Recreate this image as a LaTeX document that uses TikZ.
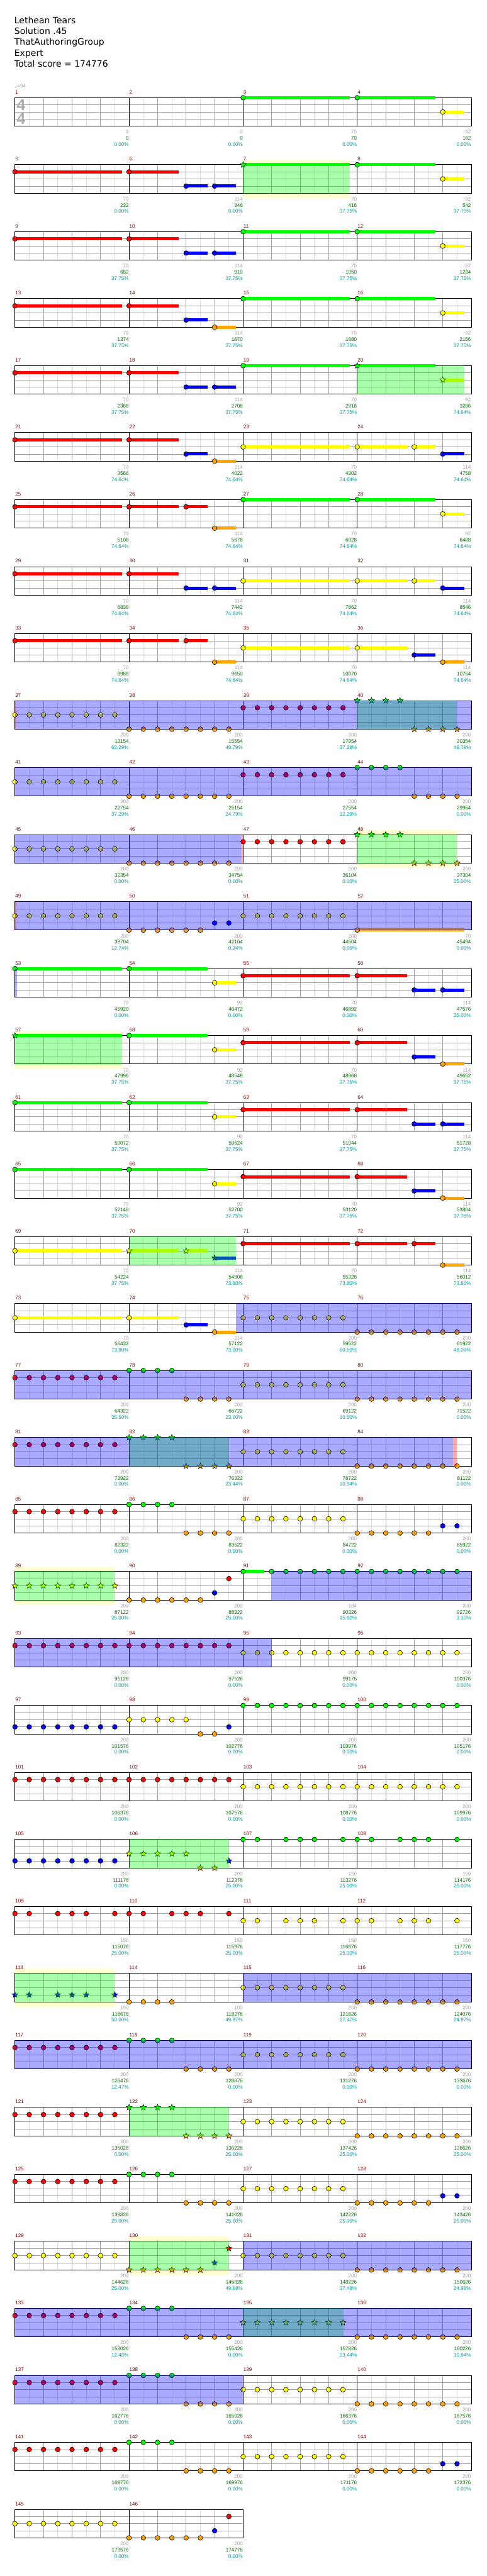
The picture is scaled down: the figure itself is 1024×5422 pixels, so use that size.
\documentclass[tikz,border=0pt]{standalone}
\usepackage{fontspec}
\setmainfont{Liberation Sans}
\newfontfamily\numfont{Liberation Sans}
\newfontfamily\headfont{DejaVu Sans}
\usetikzlibrary{shapes.geometric}
\definecolor{ln0}{RGB}{0,255,0}
\definecolor{ln1}{RGB}{255,0,0}
\definecolor{ln2}{RGB}{255,255,0}
\definecolor{ln3}{RGB}{0,0,255}
\definecolor{ln4}{RGB}{255,165,0}
\definecolor{barnum}{RGB}{128,0,0}
\definecolor{ptsgray}{RGB}{160,160,160}
\definecolor{ptsgreen}{RGB}{0,100,0}
\definecolor{ptscyan}{RGB}{0,150,150}
\definecolor{gridmid}{RGB}{160,160,160}
\definecolor{gridlt}{RGB}{222,222,222}
\definecolor{spband}{RGB}{255,255,208}
\pgfdeclarelayer{back}\pgfdeclarelayer{over}\pgfsetlayers{back,main,over}
% measure #1 -> \barX, \barY (left end, top line of its staff)
\newcommand\mpos[1]{\pgfmathtruncatemacro\barR{(#1-1)/4}\pgfmathtruncatemacro\barC{#1-1-4*\barR}\pgfmathsetmacro\barX{31.5+240*\barC}\pgfmathsetmacro\barY{205.7+141*\barR}}
\newcommand\gem[3]{\mpos{#1}\node[gem,fill=ln#2] (g-#1-#2-#3) at (\barX+15*#3,\barY+15*#2) {};}
\newcommand\sgem[3]{\mpos{#1}\node[sgem,fill=ln#2] (s-#1-#2-#3) at (\barX+15*#3,\barY+15*#2) {};}
\newcommand\tailbar[4]{\mpos{#1}\fill[ln#2] (\barX+15*#3,\barY+15*#2-3.3) rectangle (\barX+15*#4,\barY+15*#2+3.3);}
\newcommand\hold[4]{\tailbar{#1}{#2}{#3}{#4}\gem{#1}{#2}{#3}}
\newcommand\shold[4]{\tailbar{#1}{#2}{#3}{#4}\sgem{#1}{#2}{#3}}
\newcommand\erun[3]{\foreach \p in {#3} {\gem{#1}{#2}{\p}}}
\newcommand\srun[3]{\foreach \p in {#3} {\sgem{#1}{#2}{\p}}}
% overlay from measure #1 pos #2 to measure #3 pos #4 (same row)
\newcommand\zone[5]{\mpos{#3}\pgfmathsetmacro\zoneB{\barX+15*#4}\mpos{#1}\pgfmathsetmacro\zoneA{\barX+15*#2}%
\begin{pgfonlayer}{over}\fill[#5,fill opacity=0.333] (\zoneA,\barY-0.7) rectangle (\zoneB,\barY+60.7);\end{pgfonlayer}}
\newcommand\band[3]{\mpos{#1}\begin{pgfonlayer}{back}\fill[spband] (\barX+15*#2,\barY-10) rectangle (\barX+15*#3,\barY) (\barX+15*#2,\barY+60) rectangle (\barX+15*#3,\barY+70);\end{pgfonlayer}}
\newcommand\staffrow[2]{\pgfmathsetmacro\stY{205.7+141*#1}\pgfmathsetmacro\stW{240*#2}\pgfmathtruncatemacro\nE{8*#2-1}\pgfmathtruncatemacro\nQ{4*#2-1}\pgfmathtruncatemacro\nM{#2-1}%
\draw[gridlt,line width=0.7pt] foreach \k in {1,3,...,\nE} {(31.5+30*\k,\stY)--++(0,60)};
\draw[gridmid,line width=0.7pt] foreach \k in {1,...,\nQ} {(31.5+60*\k,\stY)--++(0,60)} foreach \l in {15,30,45} {(31.5,\stY+\l)--++(\stW,0)};
\draw[black,line width=0.75pt] foreach \k in {1,...,\nM} {(31.5+240*\k,\stY)--++(0,60)};
\draw[black,line width=1pt] (31.5,\stY) rectangle ++(\stW,60);}

\begin{document}
\begin{tikzpicture}[x=0.75pt,y=-0.75pt,
  gem/.style={circle,draw=black,line width=0.6pt,inner sep=0pt,minimum size=7.6pt},
  sgem/.style={star,star points=5,star point ratio=2.3,draw=black,line width=0.5pt,inner sep=0pt,minimum size=10pt},
  head/.style={anchor=base west,inner sep=0pt,font=\headfont\fontsize{13.9}{16}\selectfont},
  barlbl/.style={anchor=base west,inner sep=0pt,text=barnum,font=\numfont\fontsize{8}{9}\selectfont},
  pts/.style={anchor=base east,inner sep=0pt,font=\numfont\fontsize{8}{9}\selectfont},
  tsig/.style={anchor=base west,inner sep=0pt,text=ptsgray!85,font=\numfont\bfseries\fontsize{25}{25}\selectfont}]
\useasboundingbox (0,0) rectangle (1024,5422);
% header
\node[head] (title) at (30,49.3) {Lethean Tears};
\node[head] (sol) at (30,72.3) {Solution .45};
\node[head] (auth) at (30,95.3) {ThatAuthoringGroup};
\node[head] (diff) at (30,118.3) {Expert};
\node[head] (total) at (30,141.3) {Total score = 174776};
\node[anchor=base west,inner sep=0pt,text=ptsgray,font=\numfont\fontsize{8}{9}\selectfont] (tempo) at (31,185) {{\headfont ♩}=94};
% staves
\foreach \r in {0,...,35} {\staffrow{\r}{4}}
\staffrow{36}{2}
\node[tsig] (ts1) at (34.5,232) {4};
\node[tsig] (ts2) at (34.5,262) {4};
% rows 0-8
\hold{3}{0}{0}{15}\hold{4}{0}{0}{11}\hold{4}{2}{12}{15}
\hold{5}{1}{0}{15}\hold{6}{1}{0}{7}\hold{6}{3}{8}{11}\hold{6}{3}{12}{15}\shold{7}{0}{0}{15}\hold{8}{0}{0}{11}\hold{8}{2}{12}{15}
\band{7}{0}{15}\zone{7}{0}{7}{15}{ln0}
\hold{9}{1}{0}{15}\hold{10}{1}{0}{7}\hold{10}{3}{8}{11}\hold{10}{3}{12}{15}\hold{11}{0}{0}{15}\hold{12}{0}{0}{11}\hold{12}{2}{12}{15}
\hold{13}{1}{0}{15}\hold{14}{1}{0}{7}\hold{14}{3}{8}{11}\hold{14}{4}{12}{15}\hold{15}{0}{0}{15}\hold{16}{0}{0}{11}\hold{16}{2}{12}{15}
\hold{17}{1}{0}{15}\hold{18}{1}{0}{7}\hold{18}{3}{8}{11}\hold{18}{3}{12}{15}\hold{19}{0}{0}{15}\shold{20}{0}{0}{11}\shold{20}{2}{12}{15}
\zone{20}{0}{20}{15}{ln0}
\hold{21}{1}{0}{15}\hold{22}{1}{0}{7}\hold{22}{3}{8}{11}\hold{22}{4}{12}{15}\hold{23}{2}{0}{15}\hold{24}{2}{0}{7}\hold{24}{2}{8}{11}\hold{24}{3}{12}{15}
\hold{25}{1}{0}{15}\hold{26}{1}{0}{7}\hold{26}{1}{8}{11}\hold{26}{4}{12}{15}\hold{27}{0}{0}{15}\hold{28}{0}{0}{11}\hold{28}{2}{12}{15}
\hold{29}{1}{0}{15}\hold{30}{1}{0}{7}\hold{30}{3}{8}{11}\hold{30}{3}{12}{15}\hold{31}{2}{0}{15}\hold{32}{2}{0}{7}\hold{32}{2}{8}{11}\hold{32}{3}{12}{15}
\hold{33}{1}{0}{15}\hold{34}{1}{0}{7}\hold{34}{1}{8}{11}\hold{34}{4}{12}{15}\hold{35}{2}{0}{15}\hold{36}{2}{0}{7}\hold{36}{3}{8}{11}\hold{36}{4}{12}{15}
% rows 9-12
\erun{37}{2}{0,2,...,14}\erun{38}{4}{0,2,...,14}\erun{39}{1}{0,2,...,14}\srun{40}{0}{0,2,4,6}\srun{40}{4}{8,10,12,14}
\zone{40}{0}{40}{14}{ln0}\zone{37}{0}{40}{16}{ln3}\zone{37}{0}{37}{0.1}{ln1}
\erun{41}{2}{0,2,...,14}\erun{42}{4}{0,2,...,14}\erun{43}{1}{0,2,...,14}\erun{44}{0}{0,2,4,6}\erun{44}{4}{8,10,12,14}
\zone{41}{0}{44}{16}{ln3}
\erun{45}{2}{0,2,...,14}\erun{46}{4}{0,2,...,14}\erun{47}{1}{0,2,...,14}\srun{48}{0}{0,2,4,6}\srun{48}{4}{8,10,12,14}
\band{48}{0}{14}\zone{48}{0}{48}{14}{ln0}\zone{45}{0}{46}{15.7}{ln3}\zone{46}{15.7}{46}{16}{ln1}
\erun{49}{2}{0,2,...,14}\erun{50}{4}{0,2,...,10}\erun{50}{3}{12,14}\erun{51}{2}{0,2,...,14}\hold{52}{4}{0}{15}
\zone{49}{0}{52}{16}{ln3}\zone{49}{0}{49}{0.2}{ln1}
% rows 13-18
\hold{53}{0}{0}{15}\hold{54}{0}{0}{11}\hold{54}{2}{12}{15}\hold{55}{1}{0}{15}\hold{56}{1}{0}{7}\hold{56}{3}{8}{11}\hold{56}{3}{12}{15}
\zone{53}{0}{53}{0.3}{ln3}
\shold{57}{0}{0}{15}\hold{58}{0}{0}{11}\hold{58}{2}{12}{15}\hold{59}{1}{0}{15}\hold{60}{1}{0}{7}\hold{60}{3}{8}{11}\hold{60}{4}{12}{15}
\band{57}{0}{15}\zone{57}{0}{57}{15}{ln0}
\hold{61}{0}{0}{15}\hold{62}{0}{0}{11}\hold{62}{2}{12}{15}\hold{63}{1}{0}{15}\hold{64}{1}{0}{7}\hold{64}{3}{8}{11}\hold{64}{3}{12}{15}
\hold{65}{0}{0}{15}\hold{66}{0}{0}{11}\hold{66}{2}{12}{15}\hold{67}{1}{0}{15}\hold{68}{1}{0}{7}\hold{68}{3}{8}{11}\hold{68}{4}{12}{15}
\hold{69}{2}{0}{15}\shold{70}{2}{0}{7}\shold{70}{2}{8}{11}\shold{70}{3}{12}{15}\hold{71}{1}{0}{15}\hold{72}{1}{0}{7}\hold{72}{1}{8}{11}\hold{72}{4}{12}{15}
\zone{70}{0}{70}{15}{ln0}
\hold{73}{2}{0}{15}\hold{74}{2}{0}{7}\hold{74}{3}{8}{11}\hold{74}{4}{12}{15}\erun{75}{2}{0,2,...,14}\erun{76}{4}{0,2,...,14}
\zone{74}{15}{76}{16}{ln3}
% rows 19-24
\erun{77}{1}{0,2,...,14}\erun{78}{0}{0,2,4,6}\erun{78}{4}{8,10,12,14}\erun{79}{2}{0,2,...,14}\erun{80}{4}{0,2,...,14}
\zone{77}{0}{80}{16}{ln3}
\erun{81}{1}{0,2,...,14}\srun{82}{0}{0,2,4,6}\srun{82}{4}{8,10,12,14}\erun{83}{2}{0,2,...,14}\erun{84}{4}{0,2,...,14}
\zone{82}{0}{82}{14}{ln0}\zone{81}{0}{84}{13.4}{ln3}\zone{84}{13.4}{84}{14}{ln1}
\erun{85}{1}{0,2,...,14}\erun{86}{0}{0,2,4,6}\erun{86}{4}{8,10,12,14}\erun{87}{2}{0,2,...,14}\erun{88}{4}{0,2,...,10}\erun{88}{3}{12,14}
\srun{89}{2}{0,2,...,14}\erun{90}{4}{0,2,...,10}\gem{90}{3}{12}\gem{90}{1}{14}\hold{91}{0}{0}{3}\erun{91}{0}{4,6,...,14}\erun{92}{0}{0,2,...,14}
\band{89}{0}{14}\zone{89}{0}{89}{14}{ln0}\zone{91}{4}{92}{16}{ln3}
\erun{93}{1}{0,2,...,14}\erun{94}{1}{0,2,...,14}\erun{95}{2}{0,2,...,14}\erun{96}{2}{0,2,...,14}
\zone{93}{0}{95}{4}{ln3}
\erun{97}{3}{0,2,...,14}\erun{98}{2}{0,2,...,8}\erun{98}{4}{10,12}\gem{98}{3}{14}\erun{99}{0}{0,2,...,14}\erun{100}{0}{0,2,...,14}
% rows 25-30
\erun{101}{1}{0,2,...,14}\erun{102}{1}{0,2,...,14}\erun{103}{2}{0,2,...,14}\erun{104}{2}{0,2,...,14}
\erun{105}{3}{0,2,...,14}\srun{106}{2}{0,2,...,8}\srun{106}{4}{10,12}\sgem{106}{3}{14}\erun{107}{0}{0,2,6,8,10,14}\erun{108}{0}{0,2,6,8,10,14}
\zone{106}{0}{106}{14}{ln0}
\erun{109}{1}{0,2,6,8,10,14}\erun{110}{1}{0,2,6,8,10,14}\erun{111}{2}{0,2,6,8,10,14}\erun{112}{2}{0,2,6,8,10,14}
\srun{113}{3}{0,2,6,8,10,14}\erun{114}{4}{0,2,4,6}\erun{115}{2}{0,2,...,14}\erun{116}{4}{0,2,...,14}
\band{113}{0}{14}\zone{113}{0}{113}{14}{ln0}\zone{115}{0}{116}{16}{ln3}
\erun{117}{1}{0,2,...,14}\erun{118}{0}{0,2,4,6}\erun{118}{4}{8,10,12,14}\erun{119}{2}{0,2,...,14}\erun{120}{4}{0,2,...,14}
\zone{117}{0}{120}{16}{ln3}
\erun{121}{1}{0,2,...,14}\srun{122}{0}{0,2,4,6}\srun{122}{4}{8,10,12,14}\erun{123}{2}{0,2,...,14}\erun{124}{4}{0,2,...,14}
\zone{122}{0}{122}{14}{ln0}
% rows 31-36
\erun{125}{1}{0,2,...,14}\erun{126}{0}{0,2,4,6}\erun{126}{4}{8,10,12,14}\erun{127}{2}{0,2,...,14}\erun{128}{4}{0,2,...,10}\erun{128}{3}{12,14}
\erun{129}{2}{0,2,...,14}\srun{130}{4}{0,2,...,10}\sgem{130}{3}{12}\sgem{130}{1}{14}\erun{131}{2}{0,2,...,14}\erun{132}{4}{0,2,...,14}
\band{130}{0}{14}\zone{130}{0}{130}{14}{ln0}\zone{131}{0}{132}{16}{ln3}
\erun{133}{1}{0,2,...,14}\erun{134}{0}{0,2,4,6}\erun{134}{4}{8,10,12,14}\srun{135}{2}{0,2,...,14}\erun{136}{4}{0,2,...,14}
\zone{135}{0}{135}{14}{ln0}\zone{133}{0}{136}{16}{ln3}
\erun{137}{1}{0,2,...,14}\erun{138}{0}{0,2,4,6}\erun{138}{4}{8,10,12,14}\erun{139}{2}{0,2,...,14}\erun{140}{4}{0,2,...,14}
\zone{137}{0}{139}{0}{ln3}
\erun{141}{1}{0,2,...,14}\erun{142}{0}{0,2,4,6}\erun{142}{4}{8,10,12,14}\erun{143}{2}{0,2,...,14}\erun{144}{4}{0,2,...,10}\erun{144}{3}{12,14}
\erun{145}{2}{0,2,...,14}\erun{146}{4}{0,2,...,10}\gem{146}{3}{12}\gem{146}{1}{14}
% measure numbers and scores
\foreach \m in {1,...,146} {\mpos{\m}\node[barlbl] (bn\m) at (\barX+0.5,\barY-8) {\m};}
\foreach \m/\a/\b/\c in {1/0/0/0.00,2/0/0/0.00,3/70/70/0.00,4/92/162/0.00,5/70/232/0.00,6/114/346/0.00,7/70/416/37.75,8/92/542/37.75,
 9/70/682/37.75,10/114/910/37.75,11/70/1050/37.75,12/92/1234/37.75,13/70/1374/37.75,14/114/1670/37.75,15/70/1880/37.75,16/92/2156/37.75,
 17/70/2366/37.75,18/114/2708/37.75,19/70/2918/37.75,20/92/3286/74.64,21/70/3566/74.64,22/114/4022/74.64,23/70/4302/74.64,24/114/4758/74.64,
 25/70/5108/74.64,26/114/5678/74.64,27/70/6028/74.64,28/92/6488/74.64,29/70/6838/74.64,30/114/7442/74.64,31/70/7862/74.64,32/114/8546/74.64,
 33/70/8966/74.64,34/114/9650/74.64,35/70/10070/74.64,36/114/10754/74.64,37/200/13154/62.29,38/200/15554/49.79,39/200/17954/37.29,40/200/20354/49.79,
 41/200/22754/37.29,42/200/25154/24.79,43/200/27554/12.29,44/200/29954/0.00,45/200/32354/0.00,46/200/34754/0.00,47/200/36104/0.00,48/200/37304/25.00,
 49/200/39704/12.74,50/200/42104/0.24,51/200/44504/0.00,52/70/45494/0.00,53/70/45920/0.00,54/92/46472/0.00,55/70/46892/0.00,56/114/47576/25.00,
 57/70/47996/37.75,58/92/48548/37.75,59/70/48968/37.75,60/114/49652/37.75,61/70/50072/37.75,62/92/50624/37.75,63/70/51044/37.75,64/114/51728/37.75,
 65/70/52148/37.75,66/92/52700/37.75,67/70/53120/37.75,68/114/53804/37.75,69/70/54224/37.75,70/114/54908/73.80,71/70/55328/73.80,72/114/56012/73.80,
 73/70/56432/73.80,74/114/57122/73.00,75/200/59522/60.50,76/200/61922/48.00,77/200/64322/35.50,78/200/66722/23.00,79/200/69122/10.50,80/200/71522/0.00,
 81/200/73922/0.00,82/200/76322/23.44,83/200/78722/10.94,84/200/81122/0.00,85/200/82322/0.00,86/200/83522/0.00,87/200/84722/0.00,88/200/85922/0.00,
 89/200/87122/25.00,90/200/88322/25.00,91/184/90326/15.60,92/200/92726/3.10,93/200/95126/0.00,94/200/97526/0.00,95/200/99176/0.00,96/200/100376/0.00,
 97/200/101576/0.00,98/200/102776/0.00,99/200/103976/0.00,100/200/105176/0.00,101/200/106376/0.00,102/200/107576/0.00,103/200/108776/0.00,104/200/109976/0.00,
 105/200/111176/0.00,106/200/112376/25.00,107/150/113276/25.00,108/150/114176/25.00,109/150/115076/25.00,110/150/115976/25.00,111/150/116876/25.00,112/150/117776/25.00,
 113/150/118676/50.00,114/100/119276/49.97,115/200/121826/37.47,116/200/124076/24.97,117/200/126476/12.47,118/200/128876/0.00,119/200/131276/0.00,120/200/133676/0.00,
 121/200/135026/0.00,122/200/136226/25.00,123/200/137426/25.00,124/200/138626/25.00,125/200/139826/25.00,126/200/141026/25.00,127/200/142226/25.00,128/200/143426/25.00,
 129/200/144626/25.00,130/200/145826/49.98,131/200/148226/37.48,132/200/150626/24.98,133/200/153026/12.48,134/200/155426/0.00,135/200/157826/23.44,136/200/160226/10.94,
 137/200/162776/0.00,138/200/165026/0.00,139/200/166376/0.00,140/200/167576/0.00,141/200/168776/0.00,142/200/169976/0.00,143/200/171176/0.00,144/200/172376/0.00,
 145/200/173576/0.00,146/200/174776/0.00}
 {\mpos{\m}
  \node[pts,text=ptsgray] (pa\m) at (\barX+239.5,\barY+76) {\a};
  \node[pts,text=ptsgreen] (pb\m) at (\barX+239.5,\barY+89) {\b};
  \node[pts,text=ptscyan] (pc\m) at (\barX+239.5,\barY+102) {\c\%};}
\end{tikzpicture}
\end{document}
